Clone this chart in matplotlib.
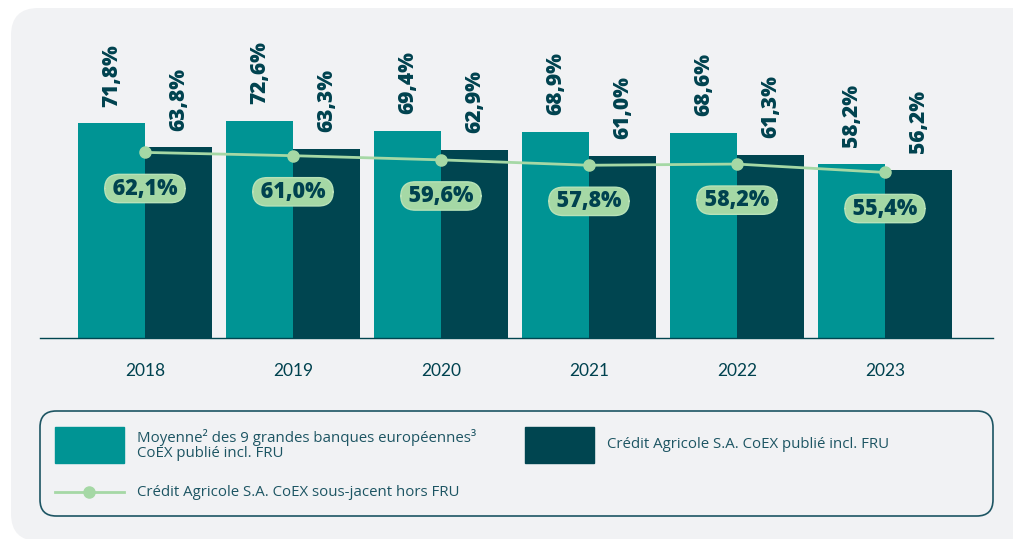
import matplotlib.pyplot as plt
import numpy as np
from matplotlib.patches import FancyBboxPatch
from matplotlib.lines import Line2D

plt.rcParams['font.family'] = ['Open Sans', 'DejaVu Sans']

years = ['2018', '2019', '2020', '2021', '2022', '2023']
moyenne = [71.8, 72.6, 69.4, 68.9, 68.6, 58.2]
casa_publie = [63.8, 63.3, 62.9, 61.0, 61.3, 56.2]
casa_sous_jacent = [62.1, 61.0, 59.6, 57.8, 58.2, 55.4]

TEAL = '#009494'
DARK = '#004550'
GREEN = '#a5d8a5'
TXT = '#00424f'
BG = '#f1f2f4'

def fmt(v):
    return f"{v:.1f}%".replace('.', ',')

W, H = 1013, 539
fig = plt.figure(figsize=(W / 100, H / 100), dpi=100)

# panel background (top at 8px, runs off the right and bottom edges)
fig.patches.append(FancyBboxPatch((11 / W, -2 / H), 1040 / W, (H - 8 + 2) / H,
                                  boxstyle="round,pad=0,rounding_size=0.027",
                                  mutation_aspect=W / H,
                                  transform=fig.transFigure, facecolor=BG,
                                  edgecolor='none', zorder=-5))

ax = fig.add_axes([40 / W, (H - 338) / H, 953 / W, 318 / H])
ax.patch.set_alpha(0)
x = np.arange(len(years))
bw = 0.453
ax.bar(x - bw / 2, moyenne, bw, color=TEAL, zorder=2)
ax.bar(x + bw / 2, casa_publie, bw, color=DARK, zorder=2)
ax.plot(x, casa_sous_jacent, color=GREEN, lw=2, marker='o', ms=8, zorder=3)

for xi, v in zip(x - bw / 2, moyenne):
    ax.annotate(fmt(v), (xi, v), xytext=(0, 12), textcoords='offset points',
                rotation=90, ha='center', va='bottom', fontsize=15,
                fontweight=800, color=TXT)
for xi, v in zip(x + bw / 2, casa_publie):
    ax.annotate(fmt(v), (xi, v), xytext=(0, 12), textcoords='offset points',
                rotation=90, ha='center', va='bottom', fontsize=15,
                fontweight=800, color=TXT)
for xi, v in zip(x, casa_sous_jacent):
    ax.annotate(" " + fmt(v) + " ", (xi, v), xytext=(0, -26),
                textcoords='offset points',
                ha='center', va='center', fontsize=15.5, fontweight=800,
                color=TXT, zorder=4,
                bbox=dict(boxstyle='round,pad=0.1,rounding_size=0.68',
                          fc=GREEN, ec='#b8e2b8', lw=1))

ax.set_xlim(-0.709, 5.730)
ax.set_ylim(0, 106.4)
ax.set_xticks(x)
ax.set_xticklabels(years, fontsize=12.5, color=TXT, fontfamily='Lato')
ax.tick_params(axis='x', length=0, pad=18)
ax.set_yticks([])
for s in ['top', 'right', 'left']:
    ax.spines[s].set_visible(False)
ax.spines['bottom'].set_color(DARK)
ax.spines['bottom'].set_linewidth(1)

# legend box
fig.patches.append(FancyBboxPatch((40 / W, (H - 516) / H), 953 / W, 105 / H,
                                  boxstyle="round,pad=0,rounding_size=0.016",
                                  transform=fig.transFigure, facecolor='none',
                                  edgecolor='#1d5563', lw=1.2, zorder=1,
                                  mutation_aspect=W / H))

fig.patches.append(plt.Rectangle((55 / W, (H - 463) / H), 69 / W, 36 / H,
                                 transform=fig.transFigure, color=TEAL))
fig.patches.append(plt.Rectangle((525 / W, (H - 463) / H), 69 / W, 36 / H,
                                 transform=fig.transFigure, color=DARK))
fig.lines.append(Line2D([55 / W, 124 / W], [(H - 492) / H] * 2,
                        transform=fig.transFigure, color=GREEN, lw=2))
fig.lines.append(Line2D([89 / W], [(H - 492) / H], transform=fig.transFigure,
                        color=GREEN, marker='o', ms=8))

fig.text(137 / W, (H - 445) / H,
         "Moyenne\u00b2 des 9 grandes banques européennes\u00b3\nCoEX publié incl. FRU",
         fontsize=10.8, color='#1d5563', va='center', linespacing=0.95)
fig.text(607 / W, (H - 445) / H, "Crédit Agricole S.A. CoEX publié incl. FRU",
         fontsize=10.8, color='#1d5563', va='center')
fig.text(137 / W, (H - 492) / H, "Crédit Agricole S.A. CoEX sous-jacent hors FRU",
         fontsize=10.8, color='#1d5563', va='center')

fig.savefig('out.png', dpi=100, facecolor='white')
